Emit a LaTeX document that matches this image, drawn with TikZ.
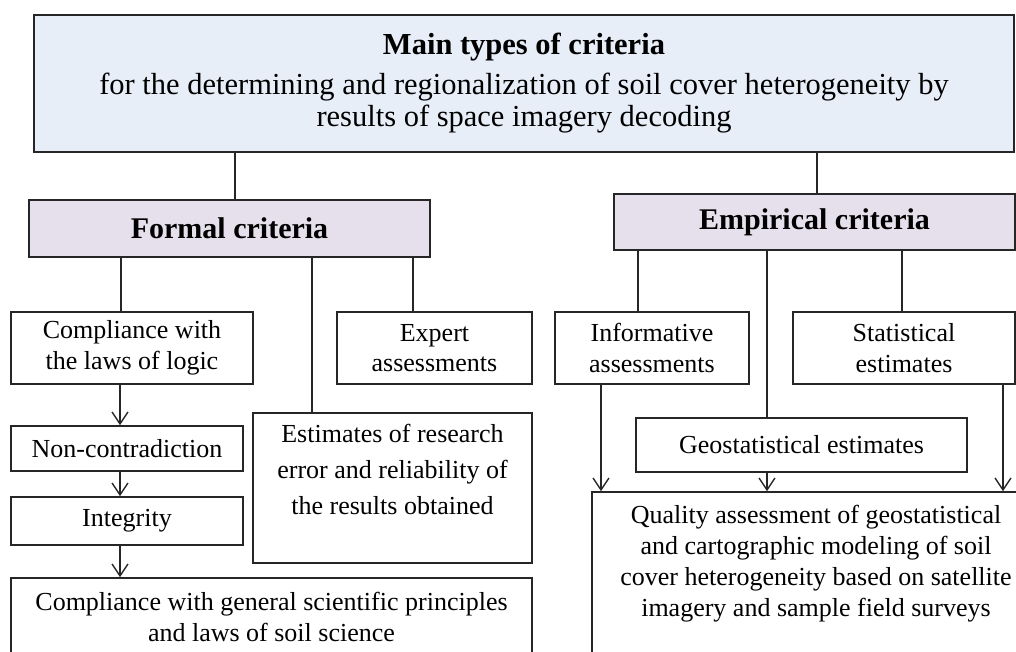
\documentclass[tikz,border=0pt]{standalone}
\usepackage{fontspec}
\setmainfont{Liberation Serif}
\usetikzlibrary{arrows.meta}
\definecolor{mainfill}{RGB}{232,238,247}
\definecolor{headfill}{RGB}{229,224,236}
\tikzset{
box/.style={ % Plain white box with centred text
draw=black!85, line width=1.6pt, fill=white,
align=center, inner sep=0pt,
font=\fontsize{26}{30.5}\selectfont},
head/.style={ % Group heading
box, fill=headfill,
font=\fontsize{30}{32}\selectfont\bfseries},
link/.style={draw=black!85, line width=1.4pt}, % Plain connector
arrow/.style={ % Connector with an open tip
link, -{Straight Barb[length=12pt,width=16pt,line width=1.4pt]}}}

\begin{document}
\begin{tikzpicture}[x=1pt, y=-1pt]

    \useasboundingbox (0,0) rectangle (1016,651);
    \clip (0,0) rectangle (1016,651);
    \fill[white] (0,0) rectangle (1016,651);

    \node[box, fill=mainfill, minimum width=980, minimum height=137,
          font=\fontsize{30.5}{32}\selectfont] (main) at (524,83.5)
        {\textbf{Main types of criteria}\\[8pt]
         for the determining and regionalization of soil cover heterogeneity by\\
         results of space imagery decoding};

    \node[head, minimum width=401, minimum height=57] (formal) at (229.5,228.5) {Formal criteria};
    \node[head, minimum width=401, minimum height=56] (empir) at (814.5,222) {Empirical criteria};

    \node[box, minimum width=242, minimum height=72] (logic) at (132,348) {Compliance with\\the laws of logic};
    \node[box, minimum width=195, minimum height=72] (expert) at (434.5,348) {Expert\\assessments};
    \node[box, minimum width=194, minimum height=72] (info) at (652,348) {Informative\\assessments};
    \node[box, minimum width=222, minimum height=72] (stat) at (904,348) {Statistical\\estimates};

    \node[box, minimum width=232, minimum height=45] (noncon) at (127,448.5) {Non-contradiction};
    \node[box, minimum width=232, minimum height=48] (integ) at (127,521) {Integrity};
    \node[box, minimum width=279, minimum height=150,
          font=\fontsize{26}{36}\selectfont] (est) at (392.5,488)
        {Estimates of research\\error and reliability of\\the results obtained\\[1pt]\mbox{}};
    \node[box, minimum width=331, minimum height=54] (geo) at (801.5,445) {Geostatistical estimates};

    \node[box, minimum width=521, minimum height=78] (gen) at (271.5,617)
        {Compliance with general scientific principles\\and laws of soil science};
    \node[box, minimum width=448, minimum height=208, font=\fontsize{26}{31}\selectfont] (qual) at (816,596)
        {Quality assessment of geostatistical\\and cartographic modeling of soil\\
         cover heterogeneity based on satellite\\imagery and sample field surveys\\[39pt]\mbox{}};

    \draw[link] (main.south -| 235,0) -- (formal.north -| 235,0);
    \draw[link] (main.south -| 817,0) -- (empir.north -| 817,0);

    \draw[link] (formal.south -| 121,0) -- (logic.north -| 121,0);
    \draw[link] (formal.south -| 312,0) -- (est.north -| 312,0);
    \draw[link] (formal.south -| 413,0) -- (expert.north -| 413,0);

    \draw[link] (empir.south -| 638,0) -- (info.north -| 638,0);
    \draw[link] (empir.south -| 767,0) -- (geo.north -| 767,0);
    \draw[link] (empir.south -| 902,0) -- (stat.north -| 902,0);

    \draw[arrow] (logic.south -| 120,0) -- (noncon.north -| 120,0);
    \draw[arrow] (noncon.south -| 120,0) -- (integ.north -| 120,0);
    \draw[arrow] (integ.south -| 120,0) -- (gen.north -| 120,0);

    \draw[arrow] (info.south -| 601,0) -- (qual.north -| 601,0);
    \draw[arrow] (geo.south -| 767,0) -- (qual.north -| 767,0);
    \draw[arrow] (stat.south -| 1003,0) -- (qual.north -| 1003,0);

\end{tikzpicture}
\end{document}
